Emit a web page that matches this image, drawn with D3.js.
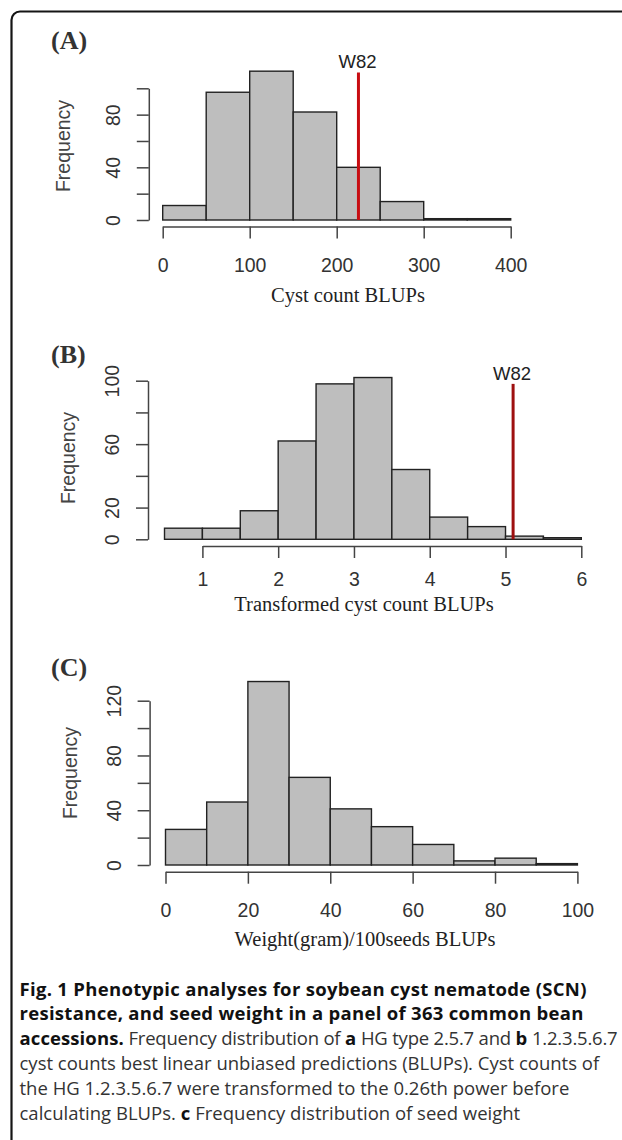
<!DOCTYPE html>
<html>
<head>
<meta charset="utf-8">
<script src="https://cdn.jsdelivr.net/npm/d3@7"></script>
<style>
  body { margin: 0; background: #fff; }
  svg { display: block; }
</style>
</head>
<body>
<div id="chart"></div>
<script>
// (A) HG 2.5.7 cyst count BLUPs
var cystBreaks = [0, 50, 100, 150, 200, 250, 300, 350, 400];
var cystCounts = [11, 97, 113, 82, 40, 14, 1, 1];
var cystXTicks = [0, 100, 200, 300, 400];
var cystYTicks = [0, 20, 40, 60, 80, 100];
var cystYLabels = [0, 40, 80];
var cystW82 = 225, cystW82Top = 112;

// (B) transformed cyst count BLUPs
var transBreaks = [0.5, 1, 1.5, 2, 2.5, 3, 3.5, 4, 4.5, 5, 5.5, 6];
var transCounts = [7, 7, 18, 62, 98, 102, 44, 14, 8, 2, 1];
var transXTicks = [1, 2, 3, 4, 5, 6];
var transYTicks = [0, 20, 40, 60, 80, 100];
var transYLabels = [0, 20, 60, 100];
var transW82 = 5.1, transW82Top = 98;

// (C) seed weight BLUPs
var weightBreaks = [0, 10, 20, 30, 40, 50, 60, 70, 80, 90, 100];
var weightCounts = [26, 46, 134, 64, 41, 28, 15, 3, 5, 1];
var weightXTicks = [0, 20, 40, 60, 80, 100];
var weightYTicks = [0, 20, 40, 60, 80, 100, 120];
var weightYLabels = [0, 40, 80, 120];

var captionLines = [
  [["b", "Fig. 1 Phenotypic analyses for soybean cyst nematode (SCN)"]],
  [["b", "resistance, and seed weight in a panel of 363 common bean"]],
  [["b", "accessions."], ["r", " Frequency distribution of "], ["b", "a"], ["r", " HG type 2.5.7 and "], ["b", "b"], ["r", " 1.2.3.5.6.7"]],
  [["r", "cyst counts best linear unbiased predictions (BLUPs). Cyst counts of"]],
  [["r", "the HG 1.2.3.5.6.7 were transformed to the 0.26th power before"]],
  [["r", "calculating BLUPs. "], ["b", "c"], ["r", " Frequency distribution of seed weight"]]
];

var width = 622, height = 1140;

var svg = d3.select("#chart").append("svg")
  .attr("width", width)
  .attr("height", height);

// outer frame, only top and left edges are visible
svg.append("path")
  .attr("d", "M11.5,1140 V20 A8.5,8.5 0 0 1 20,11.5 H622")
  .attr("fill", "none")
  .attr("stroke", "#151515")
  .attr("stroke-width", 2.2);

var sans = "'Liberation Sans', Arial, sans-serif";
var serif = "'Liberation Serif', 'Times New Roman', serif";

function panel(cfg) {
  var g = svg.append("g");
  var x = d3.scaleLinear().domain(cfg.xDomain).range(cfg.xRange);
  var y = d3.scaleLinear().domain(cfg.yDomain).range(cfg.yRange);

  g.selectAll("rect.bar")
    .data(cfg.counts)
    .enter().append("rect")
    .attr("class", "bar")
    .attr("x", function(d, i) { return x(cfg.breaks[i]); })
    .attr("y", function(d) { return y(d); })
    .attr("width", function(d, i) { return x(cfg.breaks[i + 1]) - x(cfg.breaks[i]); })
    .attr("height", function(d) { return y(0) - y(d); })
    .attr("fill", "#bebebe")
    .attr("stroke", "#222")
    .attr("stroke-width", 1.4);

  // y axis, R style: rotated labels, some dropped
  var ya = g.append("g")
    .attr("transform", "translate(" + cfg.yAxisX + ",0)")
    .call(d3.axisLeft(y).tickValues(cfg.yTicks).tickSize(12).tickSizeOuter(0)
      .tickFormat(function(d) { return cfg.yLabels.indexOf(d) >= 0 ? d : ""; }));
  ya.selectAll("path, line").attr("stroke", "#444").attr("stroke-width", 1.5);
  ya.selectAll("text")
    .attr("transform", "rotate(-90)")
    .attr("x", 0).attr("y", -29).attr("dy", 0)
    .attr("text-anchor", "middle")
    .attr("fill", "#333")
    .style("font", "19.5px " + sans);

  // x axis
  var xa = g.append("g")
    .attr("transform", "translate(0," + cfg.xAxisY + ")")
    .call(d3.axisBottom(x).tickValues(cfg.xTicks).tickSize(12).tickSizeOuter(0)
      .tickFormat(d3.format("d")));
  xa.selectAll("path, line").attr("stroke", "#444").attr("stroke-width", 1.5);
  xa.selectAll("text")
    .attr("y", cfg.xLabelOff).attr("dy", 0)
    .attr("fill", "#333")
    .style("font", "19.5px " + sans);

  // W82 marker
  if (cfg.w82 !== undefined) {
    g.append("line")
      .attr("x1", x(cfg.w82)).attr("x2", x(cfg.w82))
      .attr("y1", y(0)).attr("y2", y(cfg.w82Top))
      .attr("stroke", cfg.w82Color)
      .attr("stroke-width", 3);
    g.append("text")
      .attr("x", x(cfg.w82) - 1)
      .attr("y", y(cfg.w82Top) - 4)
      .attr("text-anchor", "middle")
      .attr("fill", "#222")
      .style("font", "18.5px " + sans)
      .text("W82");
  }

  g.append("text")
    .attr("transform", "translate(" + cfg.freqX + "," + cfg.freqY + ") rotate(-90)")
    .attr("text-anchor", "middle")
    .attr("fill", "#444")
    .style("font", "19.5px " + sans)
    .text("Frequency");

  g.append("text")
    .attr("x", cfg.titleX).attr("y", cfg.titleY)
    .attr("text-anchor", "middle")
    .attr("fill", "#222")
    .style("font", "20.5px " + serif)
    .text(cfg.title);

  g.append("text")
    .attr("x", 51).attr("y", cfg.tagY)
    .attr("fill", "#333")
    .style("font", "bold 26px " + serif)
    .text(cfg.tag);
}

panel({
  breaks: cystBreaks, counts: cystCounts,
  xDomain: [0, 400], xRange: [162.7, 510.7],
  yDomain: [0, 100], yRange: [220, 88.3],
  xTicks: cystXTicks, yTicks: cystYTicks, yLabels: cystYLabels,
  yAxisX: 148.8, xAxisY: 226.5, xLabelOff: 45,
  w82: cystW82, w82Top: cystW82Top, w82Color: "#c80d12",
  freqX: 70, freqY: 146,
  title: "Cyst count BLUPs", titleX: 348, titleY: 302,
  tag: "(A)", tagY: 49
});

panel({
  breaks: transBreaks, counts: transCounts,
  xDomain: [1, 6], xRange: [202.4, 581.3],
  yDomain: [0, 100], yRange: [539.3, 380.7],
  xTicks: transXTicks, yTicks: transYTicks, yLabels: transYLabels,
  yAxisX: 148, xAxisY: 546, xLabelOff: 40,
  w82: transW82, w82Top: transW82Top, w82Color: "#9e1010",
  freqX: 75, freqY: 458,
  title: "Transformed cyst count BLUPs", titleX: 364, titleY: 611,
  tag: "(B)", tagY: 363
});

panel({
  breaks: weightBreaks, counts: weightCounts,
  xDomain: [0, 100], xRange: [165.5, 577.4],
  yDomain: [0, 120], yRange: [865, 700.7],
  xTicks: weightXTicks, yTicks: weightYTicks, yLabels: weightYLabels,
  yAxisX: 149.6, xAxisY: 871.7, xLabelOff: 45,
  freqX: 77, freqY: 773,
  title: "Weight(gram)/100seeds BLUPs", titleX: 365, titleY: 946,
  tag: "(C)", tagY: 676
});

// caption; a line that runs past the right margin gets tighter letter spacing
var capLeft = 19.5, capMax = 598;
var cap = svg.append("g");
captionLines.forEach(function(line, i) {
  var t = cap.append("text")
    .attr("x", capLeft)
    .attr("y", 995.5 + i * 24.8)
    .style("font-family", "'Open Sans', 'Noto Sans', sans-serif")
    .style("font-size", "18.5px");
  var nChars = 0;
  line.forEach(function(seg) {
    nChars += seg[1].length;
    t.append("tspan")
      .attr("font-weight", seg[0] === "b" ? 700 : 400)
      .attr("fill", seg[0] === "b" ? "#111" : "#333")
      .style("letter-spacing", seg[0] === "b" ? "0.3px" : "0px")
      .text(seg[1]);
  });
  var w = t.node().getComputedTextLength();
  if (w > capMax) {
    var shrink = (w - capMax) / nChars;
    t.selectAll("tspan").style("letter-spacing", function() {
      return (parseFloat(this.style.letterSpacing) - shrink) + "px";
    });
  }
});
</script>
</body>
</html>
